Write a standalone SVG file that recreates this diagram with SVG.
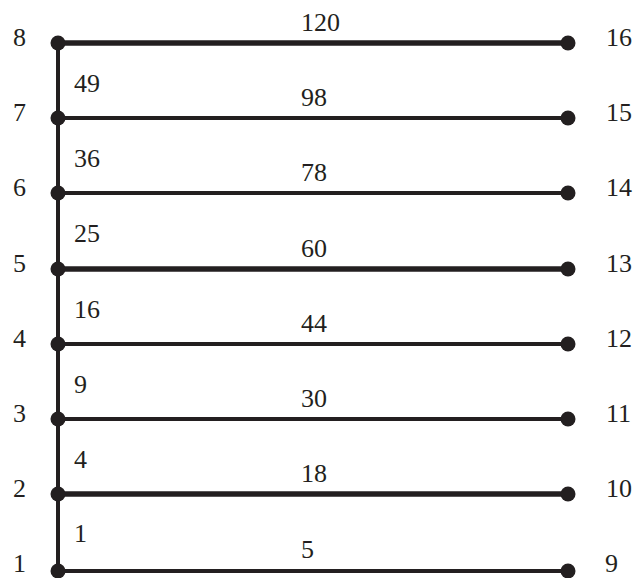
<svg xmlns="http://www.w3.org/2000/svg" width="636" height="578" viewBox="0 0 636 578">
<style>
.l{text-anchor:end}
.e{stroke:#231f20;stroke-width:4;fill:none}
.t{stroke-width:5.5}
.n{fill:#231f20}
</style>
<rect width="636" height="578" fill="#fff"/>
<g font-family="Liberation Serif, serif" font-size="26" fill="#231f20">
<g id="connectors">
<path class="e" d="M58 43V571"/>
<path class="e t" d="M58 43H568"/>
<path class="e" d="M58 118H568"/>
<path class="e" d="M58 193H568"/>
<path class="e t" d="M58 269H568"/>
<path class="e" d="M58 344H568"/>
<path class="e" d="M58 419H568"/>
<path class="e t" d="M58 494H568"/>
<path class="e" d="M58 571H568"/>
<text x="301" y="31">120</text>
<text x="301" y="106">98</text>
<text x="301" y="181">78</text>
<text x="301" y="257">60</text>
<text x="301" y="332">44</text>
<text x="301" y="407">30</text>
<text x="301" y="482">18</text>
<text x="301" y="558">5</text>
<text x="74" y="92">49</text>
<text x="74" y="167">36</text>
<text x="74" y="242">25</text>
<text x="74" y="318">16</text>
<text x="74" y="393">9</text>
<text x="74" y="468">4</text>
<text x="74" y="542">1</text>
</g>
<g id="n1"><circle class="n" cx="58" cy="571" r="7.5"/><text class="l" x="26" y="572">1</text></g>
<g id="n2"><circle class="n" cx="58" cy="494" r="7.5"/><text class="l" x="26" y="497">2</text></g>
<g id="n3"><circle class="n" cx="58" cy="419" r="7.5"/><text class="l" x="26" y="422">3</text></g>
<g id="n4"><circle class="n" cx="58" cy="344" r="7.5"/><text class="l" x="26" y="347">4</text></g>
<g id="n5"><circle class="n" cx="58" cy="269" r="7.5"/><text class="l" x="26" y="272">5</text></g>
<g id="n6"><circle class="n" cx="58" cy="193" r="7.5"/><text class="l" x="26" y="196">6</text></g>
<g id="n7"><circle class="n" cx="58" cy="118" r="7.5"/><text class="l" x="26" y="121">7</text></g>
<g id="n8"><circle class="n" cx="58" cy="43" r="7.5"/><text class="l" x="26" y="46">8</text></g>
<g id="n9"><circle class="n" cx="568" cy="571" r="7.5"/><text x="605" y="572">9</text></g>
<g id="n10"><circle class="n" cx="568" cy="494" r="7.5"/><text x="606" y="497">10</text></g>
<g id="n11"><circle class="n" cx="568" cy="419" r="7.5"/><text x="606" y="422">11</text></g>
<g id="n12"><circle class="n" cx="568" cy="344" r="7.5"/><text x="606" y="347">12</text></g>
<g id="n13"><circle class="n" cx="568" cy="269" r="7.5"/><text x="606" y="272">13</text></g>
<g id="n14"><circle class="n" cx="568" cy="193" r="7.5"/><text x="606" y="196">14</text></g>
<g id="n15"><circle class="n" cx="568" cy="118" r="7.5"/><text x="606" y="121">15</text></g>
<g id="n16"><circle class="n" cx="568" cy="43" r="7.5"/><text x="606" y="46">16</text></g>
</g>
</svg>
